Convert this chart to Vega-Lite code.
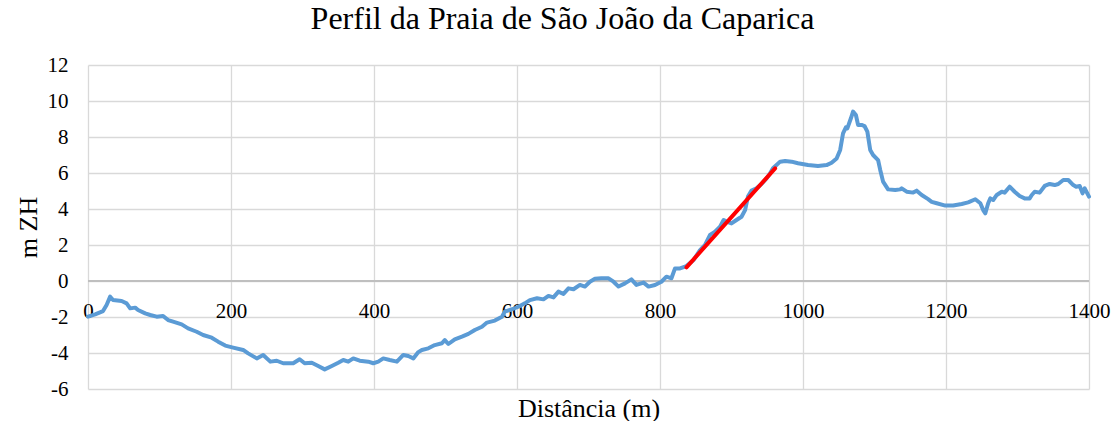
{
  "$schema": "https://vega.github.io/schema/vega-lite/v6.json",
  "width": 1001,
  "height": 324,
  "autosize": {"type": "none"},
  "padding": {"left": 88, "top": 65, "right": 26, "bottom": 32},
  "background": "white",
  "title": {
    "text": "Perfil da Praia de São João da Caparica",
    "font": "Liberation Serif",
    "fontSize": 32,
    "fontWeight": "normal",
    "color": "#000000",
    "anchor": "middle",
    "frame": "group",
    "baseline": "alphabetic",
    "offset": -7,
    "dx": -26
  },
  "config": {
    "view": {"stroke": null},
    "axis": {
      "labelFont": "Liberation Serif",
      "titleFont": "Liberation Serif",
      "labelColor": "#000000",
      "titleColor": "#000000",
      "titleFontWeight": "normal",
      "gridColor": "#d9d9d9",
      "gridWidth": 1.3,
      "labelOverlap": false
    }
  },
  "datasets": {
    "perfil": [
      {"dist": 0, "cota": -1.98}, {"dist": 10, "cota": -1.85}, {"dist": 21, "cota": -1.67}, {"dist": 26, "cota": -1.33},
      {"dist": 31, "cota": -0.87}, {"dist": 35, "cota": -1.06}, {"dist": 47, "cota": -1.11}, {"dist": 54, "cota": -1.24},
      {"dist": 59, "cota": -1.52}, {"dist": 66, "cota": -1.48}, {"dist": 70, "cota": -1.61}, {"dist": 80, "cota": -1.8},
      {"dist": 87, "cota": -1.89}, {"dist": 96, "cota": -1.98}, {"dist": 105, "cota": -1.94}, {"dist": 112, "cota": -2.17},
      {"dist": 119, "cota": -2.26}, {"dist": 131, "cota": -2.41}, {"dist": 140, "cota": -2.63}, {"dist": 152, "cota": -2.82},
      {"dist": 161, "cota": -3.0}, {"dist": 173, "cota": -3.15}, {"dist": 182, "cota": -3.37}, {"dist": 192, "cota": -3.59},
      {"dist": 203, "cota": -3.7}, {"dist": 217, "cota": -3.83}, {"dist": 224, "cota": -4.02}, {"dist": 236, "cota": -4.3},
      {"dist": 245, "cota": -4.11}, {"dist": 255, "cota": -4.48}, {"dist": 264, "cota": -4.43}, {"dist": 273, "cota": -4.57},
      {"dist": 287, "cota": -4.57}, {"dist": 296, "cota": -4.35}, {"dist": 303, "cota": -4.57}, {"dist": 313, "cota": -4.54},
      {"dist": 322, "cota": -4.72}, {"dist": 331, "cota": -4.91}, {"dist": 341, "cota": -4.72}, {"dist": 350, "cota": -4.54},
      {"dist": 357, "cota": -4.39}, {"dist": 364, "cota": -4.48}, {"dist": 371, "cota": -4.3}, {"dist": 380, "cota": -4.43},
      {"dist": 392, "cota": -4.48}, {"dist": 399, "cota": -4.57}, {"dist": 406, "cota": -4.48}, {"dist": 413, "cota": -4.3},
      {"dist": 422, "cota": -4.39}, {"dist": 432, "cota": -4.48}, {"dist": 441, "cota": -4.11}, {"dist": 448, "cota": -4.17},
      {"dist": 455, "cota": -4.3}, {"dist": 462, "cota": -3.95}, {"dist": 467, "cota": -3.83}, {"dist": 476, "cota": -3.74},
      {"dist": 485, "cota": -3.56}, {"dist": 495, "cota": -3.46}, {"dist": 499, "cota": -3.28}, {"dist": 504, "cota": -3.5},
      {"dist": 513, "cota": -3.24}, {"dist": 523, "cota": -3.09}, {"dist": 532, "cota": -2.94}, {"dist": 541, "cota": -2.72},
      {"dist": 551, "cota": -2.54}, {"dist": 558, "cota": -2.31}, {"dist": 569, "cota": -2.2}, {"dist": 579, "cota": -1.98},
      {"dist": 583, "cota": -1.7}, {"dist": 593, "cota": -1.57}, {"dist": 602, "cota": -1.43}, {"dist": 611, "cota": -1.24},
      {"dist": 618, "cota": -1.06}, {"dist": 628, "cota": -0.96}, {"dist": 637, "cota": -1.02}, {"dist": 644, "cota": -0.83},
      {"dist": 651, "cota": -0.91}, {"dist": 658, "cota": -0.59}, {"dist": 665, "cota": -0.72}, {"dist": 672, "cota": -0.41},
      {"dist": 679, "cota": -0.46}, {"dist": 688, "cota": -0.22}, {"dist": 695, "cota": -0.31}, {"dist": 702, "cota": -0.04},
      {"dist": 709, "cota": 0.12}, {"dist": 718, "cota": 0.15}, {"dist": 728, "cota": 0.15}, {"dist": 735, "cota": -0.04},
      {"dist": 742, "cota": -0.31}, {"dist": 751, "cota": -0.13}, {"dist": 760, "cota": 0.09}, {"dist": 767, "cota": -0.22},
      {"dist": 777, "cota": -0.09}, {"dist": 784, "cota": -0.31}, {"dist": 793, "cota": -0.22}, {"dist": 802, "cota": -0.04},
      {"dist": 809, "cota": 0.24}, {"dist": 816, "cota": 0.15}, {"dist": 821, "cota": 0.7}, {"dist": 828, "cota": 0.7},
      {"dist": 837, "cota": 0.83}, {"dist": 847, "cota": 1.17}, {"dist": 856, "cota": 1.72}, {"dist": 863, "cota": 2.0},
      {"dist": 870, "cota": 2.56}, {"dist": 877, "cota": 2.74}, {"dist": 884, "cota": 3.02}, {"dist": 889, "cota": 3.39},
      {"dist": 893, "cota": 3.3}, {"dist": 900, "cota": 3.2}, {"dist": 907, "cota": 3.39}, {"dist": 914, "cota": 3.57},
      {"dist": 919, "cota": 3.94}, {"dist": 923, "cota": 4.69}, {"dist": 928, "cota": 5.02}, {"dist": 935, "cota": 5.15},
      {"dist": 942, "cota": 5.39}, {"dist": 949, "cota": 5.7}, {"dist": 954, "cota": 5.98}, {"dist": 958, "cota": 6.26},
      {"dist": 968, "cota": 6.63}, {"dist": 975, "cota": 6.67}, {"dist": 984, "cota": 6.63}, {"dist": 993, "cota": 6.54},
      {"dist": 1007, "cota": 6.44}, {"dist": 1021, "cota": 6.39}, {"dist": 1033, "cota": 6.44}, {"dist": 1040, "cota": 6.57},
      {"dist": 1047, "cota": 6.81}, {"dist": 1052, "cota": 7.28}, {"dist": 1056, "cota": 8.2}, {"dist": 1060, "cota": 8.54},
      {"dist": 1062, "cota": 8.48}, {"dist": 1067, "cota": 9.04}, {"dist": 1070, "cota": 9.41}, {"dist": 1074, "cota": 9.22},
      {"dist": 1077, "cota": 8.67}, {"dist": 1082, "cota": 8.67}, {"dist": 1086, "cota": 8.61}, {"dist": 1090, "cota": 8.3},
      {"dist": 1094, "cota": 7.28}, {"dist": 1098, "cota": 7.0}, {"dist": 1105, "cota": 6.72}, {"dist": 1108, "cota": 6.17},
      {"dist": 1112, "cota": 5.52}, {"dist": 1119, "cota": 5.09}, {"dist": 1129, "cota": 5.06}, {"dist": 1136, "cota": 5.09},
      {"dist": 1138, "cota": 5.15}, {"dist": 1145, "cota": 4.96}, {"dist": 1154, "cota": 4.91}, {"dist": 1159, "cota": 5.02},
      {"dist": 1166, "cota": 4.78}, {"dist": 1175, "cota": 4.55}, {"dist": 1180, "cota": 4.4}, {"dist": 1187, "cota": 4.32},
      {"dist": 1199, "cota": 4.19}, {"dist": 1210, "cota": 4.19}, {"dist": 1222, "cota": 4.28}, {"dist": 1231, "cota": 4.37},
      {"dist": 1241, "cota": 4.54}, {"dist": 1248, "cota": 4.32}, {"dist": 1252, "cota": 3.94}, {"dist": 1255, "cota": 3.76},
      {"dist": 1259, "cota": 4.32}, {"dist": 1262, "cota": 4.59}, {"dist": 1266, "cota": 4.5}, {"dist": 1271, "cota": 4.78},
      {"dist": 1278, "cota": 4.96}, {"dist": 1282, "cota": 4.91}, {"dist": 1289, "cota": 5.24}, {"dist": 1296, "cota": 4.96},
      {"dist": 1303, "cota": 4.72}, {"dist": 1310, "cota": 4.59}, {"dist": 1317, "cota": 4.59}, {"dist": 1320, "cota": 4.78},
      {"dist": 1324, "cota": 4.96}, {"dist": 1331, "cota": 4.91}, {"dist": 1338, "cota": 5.28}, {"dist": 1345, "cota": 5.39},
      {"dist": 1352, "cota": 5.33}, {"dist": 1357, "cota": 5.39}, {"dist": 1364, "cota": 5.61}, {"dist": 1371, "cota": 5.61},
      {"dist": 1378, "cota": 5.33}, {"dist": 1382, "cota": 5.24}, {"dist": 1387, "cota": 5.28}, {"dist": 1391, "cota": 4.87},
      {"dist": 1394, "cota": 5.15}, {"dist": 1400, "cota": 4.69}
    ],
    "ajuste": [
      {"dist": 837, "cota": 0.76},
      {"dist": 961, "cota": 6.26}
    ],
    "eixo": [
      {"nivel": 0}
    ]
  },
  "layer": [
    {
      "data": {"name": "eixo"},
      "mark": {"type": "rule", "color": "#bfbfbf", "strokeWidth": 2},
      "encoding": {
        "y": {
          "field": "nivel",
          "type": "quantitative",
          "scale": {"domain": [-6, 12], "nice": false},
          "axis": {
            "values": [-6, -4, -2, 0, 2, 4, 6, 8, 10, 12],
            "tickCount": 20,
            "labelExpr": "'' + datum.value",
            "title": "m ZH",
            "titleFontSize": 26,
            "titlePadding": 6,
            "labelFontSize": 21,
            "labelPadding": 20,
            "labelOverlap": false,
            "labelFlush": false,
            "domain": false,
            "ticks": false,
            "grid": true
          }
        }
      }
    },
    {
      "data": {"name": "perfil"},
      "mark": {"type": "line", "color": "#5b9bd5", "strokeWidth": 4, "strokeJoin": "round", "strokeCap": "round"},
      "encoding": {
        "x": {
          "field": "dist",
          "type": "quantitative",
          "scale": {"domain": [0, 1400], "nice": false},
          "axis": {
            "values": [0, 200, 400, 600, 800, 1000, 1200, 1400],
            "tickCount": 20,
            "labelExpr": "'' + datum.value",
            "title": "Distância (m)",
            "titleFontSize": 26,
            "titleY": 27,
            "titleBaseline": "alphabetic",
            "labelFontSize": 21,
            "labelPadding": -89,
            "labelBaseline": "top",
            "labelFlush": false,
            "labelOverlap": false,
            "domain": false,
            "ticks": false,
            "grid": true
          }
        },
        "y": {
          "field": "cota",
          "type": "quantitative",
          "scale": {"domain": [-6, 12], "nice": false},
          "axis": {
            "values": [-6, -4, -2, 0, 2, 4, 6, 8, 10, 12],
            "tickCount": 20,
            "labelExpr": "'' + datum.value",
            "title": "m ZH",
            "titleFontSize": 26,
            "titlePadding": 6,
            "labelFontSize": 21,
            "labelPadding": 20,
            "labelOverlap": false,
            "labelFlush": false,
            "domain": false,
            "ticks": false,
            "grid": true
          }
        }
      }
    },
    {
      "data": {"name": "ajuste"},
      "mark": {"type": "line", "color": "#ff0000", "strokeWidth": 4, "strokeCap": "round"},
      "encoding": {
        "x": {"field": "dist", "type": "quantitative"},
        "y": {"field": "cota", "type": "quantitative"}
      }
    }
  ]
}
